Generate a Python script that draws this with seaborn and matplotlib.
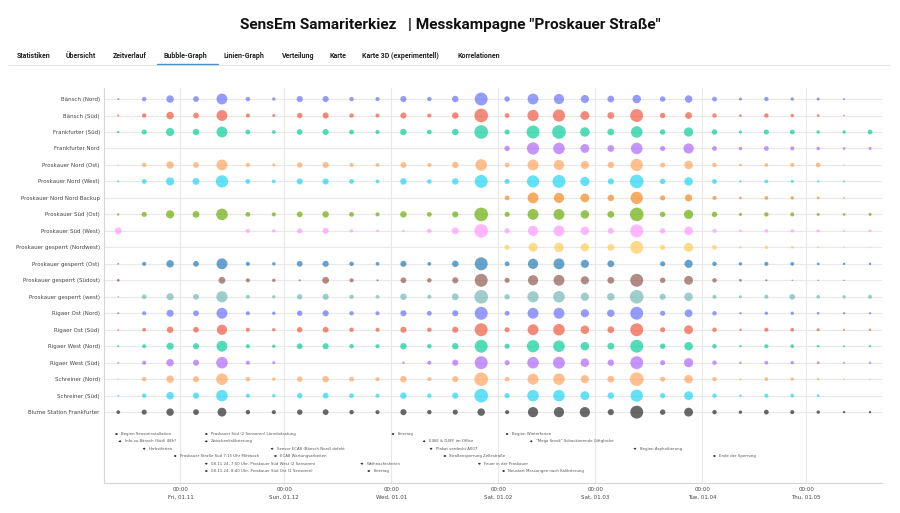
import numpy as np
import pandas as pd
import matplotlib
matplotlib.use("Agg")
import matplotlib.pyplot as plt
import matplotlib.dates as mdates
from matplotlib.colors import PowerNorm
from matplotlib.lines import Line2D
import seaborn as sns

N = np.nan

# ---------------- data ----------------
sensors = [
    "Bänsch (Nord)", "Bänsch (Süd)", "Frankfurter (Süd)", "Frankfurter Nord",
    "Proskauer Nord (Ost)", "Proskauer Nord (West)", "Proskauer Nord Nord Backup",
    "Proskauer Süd (Ost)", "Proskauer Süd (West)", "Proskauer gesperrt (Nordwest)",
    "Proskauer gesperrt (Ost)", "Proskauer gesperrt (Südost)", "Proskauer gesperrt (west)",
    "Rigaer Ost (Nord)", "Rigaer Ost (Süd)", "Rigaer West (Nord)", "Rigaer West (Süd)",
    "Schreiner (Nord)", "Schreiner (Süd)", "Blume Station Frankfurter",
]

colors = [
    "#636EFA", "#EF553B", "#00CC96", "#AB63FA", "#FFA15A", "#19D3F3", "#F58518",
    "#66AA00", "#FF97FF", "#FECB52", "#1F77B4", "#8C564B", "#72B7B2",
    "#636EFA", "#EF553B", "#00CC96", "#AB63FA", "#FFA15A", "#19D3F3", "#222222",
]

weeks = [
    "2024-10-14 00:00", "2024-10-21 12:00", "2024-10-29 00:00", "2024-11-05 12:00",
    "2024-11-13 00:00", "2024-11-20 12:00", "2024-11-28 00:00", "2024-12-05 12:00",
    "2024-12-13 00:00", "2024-12-20 12:00", "2024-12-28 00:00", "2025-01-04 12:00",
    "2025-01-12 00:00", "2025-01-19 12:00", "2025-01-27 00:00", "2025-02-03 12:00",
    "2025-02-11 00:00", "2025-02-18 12:00", "2025-02-26 00:00", "2025-03-05 12:00",
    "2025-03-13 00:00", "2025-03-20 12:00", "2025-03-28 00:00", "2025-04-04 12:00",
    "2025-04-12 00:00", "2025-04-19 12:00", "2025-04-27 00:00", "2025-05-04 12:00",
    "2025-05-12 00:00", "2025-05-19 12:00",
]

baensch_nord = [6, 13, 22, 17, 32, 13, 10, 18, 18, 13, 12, 18, 13,
                19, 38, 16, 32, 30, 24, 20, 25, 16, 22, 14, 9, 13, 10, 9, 6, N]
baensch_sued = [6, 13, 22, 17, 32, 12, 9, 16, 18, 13, 12, 18, 12,
                19, 40, 14, 33, 36, 26, 20, 38, 16, 20, 13, 8, 13, 10, 8, 5, N]
frankfurter_sued = [7, 15, 24, 19, 32, 14, 11, 17, 18, 14, 12, 19, 14,
                    19, 40, 15, 38, 40, 28, 20, 34, 16, 27, 16, 9, 15, 14, 10, 10, 14]
frankfurter_nord = [N, N, N, N, N, N, N, N, N, N, N, N, N,
                    N, N, 16, 36, 34, 26, 20, 34, 15, 30, 14, 10, 14, 12, 10, 8, 9]
proskauer_nord_ost = [4, 13, 22, 17, 32, 12, 9, 16, 18, 12, 11, 17, 12,
                      19, 34, 14, 32, 30, 24, 19, 36, 15, 25, 13, 8, 11, 12, 14, 4, N]
proskauer_nord_west = [6, 14, 24, 20, 36, 14, 11, 18, 18, 14, 11, 19, 13,
                       19, 38, 15, 36, 38, 27, 18, 40, 16, 25, 14, 7, 11, 9, 7, 6, N]
proskauer_nord_backup = [N, N, N, N, N, N, N, N, N, N, N, N, N,
                         N, N, 14, 32, 30, 26, 19, 36, 15, 21, 12, 8, 11, 10, 8, 5, N]
proskauer_sued_ost = [7, 15, 24, 20, 34, 14, 12, 17, 19, 14, 12, 19, 14,
                      18, 40, 15, 32, 32, 25, 20, 40, 16, 27, 16, 9, 13, 12, 9, 8, 9]
proskauer_sued_west = [20, N, N, N, N, 12, 10, 15, 18, 10, 8, 7, 13,
                       20, 40, 16, 30, 32, 25, 18, 38, 16, 25, 12, 8, 11, 10, 9, 6, 8]
gesperrt_nordwest = [N, N, N, N, N, N, N, N, N, N, N, N, N,
                     N, N, 15, 26, 28, 24, 20, 38, 15, 27, 14, 7, 10, 8, 6, 5, 4]
gesperrt_ost = [5, 12, 22, 17, 32, 12, 10, 17, 18, 13, 11, 18, 11,
                19, 38, 14, 30, 32, 24, 20, N, 15, 24, 13, 10, 12, 11, 8, 7, 7]
gesperrt_suedost = [8, N, N, N, 20, 12, 10, 6, 20, 12, 6, 17, 13,
                    18, 38, 15, 30, 32, 24, 20, 38, 16, 26, 13, 8, 6, 4, 4, 4, N]
gesperrt_west = [5, 14, 21, 17, 33, 12, 10, 16, 18, 13, 11, 19, 12,
                 20, 40, 16, 33, 34, 24, 22, 40, 18, 25, 12, 9, 12, 17, 11, 10, 12]
rigaer_ost_nord = [6, 12, 21, 17, 32, 12, 10, 16, 18, 13, 12, 18, 14,
                   18, 38, 14, 32, 32, 24, 22, 38, 15, 23, 13, 7, 10, 10, 8, 7, 7]
rigaer_ost_sued = [5, 11, 19, 17, 30, 12, 10, 16, 17, 13, 12, 18, 13,
                   18, 38, 15, 32, 34, 25, 20, 38, 15, 26, 13, 7, 12, 11, 9, 6, 7]
rigaer_west_nord = [6, 12, 21, 18, 32, 12, 10, 17, 18, 13, 12, 19, 13,
                    19, 38, 15, 36, 34, 25, 20, 38, 16, 25, 13, 7, 12, 11, 8, 6, 7]
rigaer_west_sued = [5, 12, 22, 18, 34, 12, 9, N, N, N, N, 7, 12,
                    18, 38, 15, 34, 35, 25, 19, 38, 15, 27, 13, 7, 11, 10, 8, 6, 7]
schreiner_nord = [4, 13, 22, 18, 34, 13, 10, 16, 19, 14, 12, 19, 12,
                  18, 40, 14, 32, 34, 24, 20, 40, 15, 25, 13, 6, 11, 10, 7, 5, 4]
schreiner_sued = [5, 13, 22, 18, 34, 12, 10, 16, 17, 14, 12, 19, 13,
                  18, 40, 15, 34, 34, 26, 19, 36, 15, 26, 13, 7, 12, 11, 8, N, N]
blume_frankfurter = [11, 15, 22, 17, 26, 13, 12, 16, 17, 13, 12, 18, 13,
                     15, 22, 12, 30, 30, 30, 18, 38, 16, 26, 13, 10, 14, 12, 10, 7, 7]

series = [
    baensch_nord, baensch_sued, frankfurter_sued, frankfurter_nord,
    proskauer_nord_ost, proskauer_nord_west, proskauer_nord_backup,
    proskauer_sued_ost, proskauer_sued_west, gesperrt_nordwest,
    gesperrt_ost, gesperrt_suedost, gesperrt_west,
    rigaer_ost_nord, rigaer_ost_sued, rigaer_west_nord, rigaer_west_sued,
    schreiner_nord, schreiner_sued, blume_frankfurter,
]

event_texts = [
    "Beginn Sensorinstallation", "Info zu Bänsch (Süd) 48h?", "Herbstferien",
    "Proskauer Straße Süd 7:15 Uhr Mittwoch",
    "Proskauer Süd (2 Sensoren) Lärmbelastung", "Zwischenkalibrierung",
    "08.11.24, 7:50 Uhr, Proskauer Süd West (2 Sensoren)",
    "08.11.24, 8:40 Uhr, Proskauer Süd Ost (2 Sensoren)",
    "Sensor ECA8 (Bänsch Nord) defekt", "ECA8 Wartungsarbeiten",
    "Weihnachtsferien", "Feiertag", "Feiertag",
    "E46E & D4FF im Office", "Plakat verdeckt A007", "Straßensperrung Zellestraße",
    "Feuer in der Proskauer", "Neustart Messungen nach Kalibrierung",
    "Beginn Winterferien", "\"Mega Smok\" Schockierende Giftglocke",
    "Beginn Asphaltierung", "Ende der Sperrung",
]
event_dates = [
    "2024-10-13", "2024-10-14", "2024-10-21", "2024-10-30",
    "2024-11-08", "2024-11-08", "2024-11-08", "2024-11-08",
    "2024-11-27", "2024-11-28", "2024-12-23", "2024-12-25", "2025-01-01",
    "2025-01-10", "2025-01-12", "2025-01-16", "2025-01-26", "2025-02-02",
    "2025-02-03", "2025-02-10", "2025-03-12", "2025-04-04",
]
event_rows = [0, 1, 2, 3, 0, 1, 4, 5, 2, 3, 4, 5, 0, 1, 2, 3, 4, 5, 0, 1, 2, 3]

tabs = ["Statistiken", "Übersicht", "Zeitverlauf", "Bubble-Graph", "Linien-Graph",
        "Verteilung", "Karte", "Karte 3D (experimentell)", "Korrelationen"]
tab_x = [17, 66, 113, 164, 224, 282, 330, 362, 457]

# ---------------- frame ----------------
records = []
for name, vals in zip(sensors, series):
    for d, v in zip(weeks, vals):
        records.append({"Sensor": name, "Zeit": pd.Timestamp(d), "Wert": v})
df = pd.DataFrame(records).dropna()

# ---------------- figure ----------------
sns.set_theme(style="white")
plt.rcParams["font.family"] = ["DejaVu Sans"]

fig = plt.figure(figsize=(9, 5.13), dpi=100)
W, H = 900, 513
ax = fig.add_axes([104 / W, 1 - 483 / H, (882 - 104) / W, (483 - 88) / H])

sns.scatterplot(
    data=df, x="Zeit", y="Sensor", hue="Sensor", size="Wert",
    palette=dict(zip(sensors, colors)), hue_order=sensors,
    sizes=(0, 96), size_norm=PowerNorm(gamma=2, vmin=0, vmax=40),
    alpha=0.68, linewidth=0, legend=False, ax=ax, zorder=3,
)

ax.set_yticks(range(len(sensors)))
ax.set_yticklabels(sensors)
ax.set_ylim(23.3, -0.67)
ax.set_xlim(pd.Timestamp("2024-10-09 21:00"), pd.Timestamp("2025-05-22 23:00"))
ax.xaxis.set_major_locator(mdates.MonthLocator())
ax.xaxis.set_major_formatter(mdates.DateFormatter("%H:%M\n%a, %d.%m"))
ax.set_xlabel("")
ax.set_ylabel("")

ax.grid(True, axis="both", color="#e8e8e8", linewidth=0.8, zorder=0)
ax.set_axisbelow(True)
for s in ["top", "right"]:
    ax.spines[s].set_visible(False)
for s in ["left", "bottom"]:
    ax.spines[s].set_color("#d6d6d6")
    ax.spines[s].set_linewidth(0.8)

ax.tick_params(axis="y", length=0, pad=3, labelsize=4.0, labelcolor="#444444")
ax.tick_params(axis="x", length=0, pad=3, labelsize=4.0, labelcolor="#444444")
for lab in ax.get_xticklabels():
    lab.set_linespacing(1.55)

row_y = [0.124, 0.1056, 0.0868, 0.0684, 0.0489, 0.0304]
for txt, d, r in zip(event_texts, event_dates, event_rows):
    ax.annotate(
        txt, xy=(mdates.date2num(pd.Timestamp(d)), row_y[r]),
        xycoords=("data", "axes fraction"),
        xytext=(4.5, 0), textcoords="offset points",
        ha="left", va="center", fontsize=2.8, color="#555555",
        arrowprops=dict(arrowstyle="-|>", color="#333333", lw=0.5,
                        mutation_scale=2.4, shrinkA=0.2, shrinkB=0),
        annotation_clip=False,
    )

# ---------------- page header ----------------
fig.text(0.5, 1 - 25 / H, "SensEm Samariterkiez   | Messkampagne \"Proskauer Straße\"",
         ha="center", va="center", fontsize=11.1, fontweight="bold",
         family=["Roboto", "DejaVu Sans"], color="#111111")
for t, x in zip(tabs, tab_x):
    fig.text(x / W, 1 - 56 / H, t, ha="left", va="center", fontsize=5,
             fontweight="bold", family=["Roboto", "DejaVu Sans"], color="#222222")
fig.add_artist(Line2D([8 / W, 890 / W], [1 - 65 / H, 1 - 65 / H],
                      color="#e6e6e6", lw=0.8, transform=fig.transFigure))
fig.add_artist(Line2D([157 / W, 218 / W], [1 - 64 / H, 1 - 64 / H],
                      color="#4a90c8", lw=1.0, transform=fig.transFigure))

fig.savefig("out.png", dpi=100)
